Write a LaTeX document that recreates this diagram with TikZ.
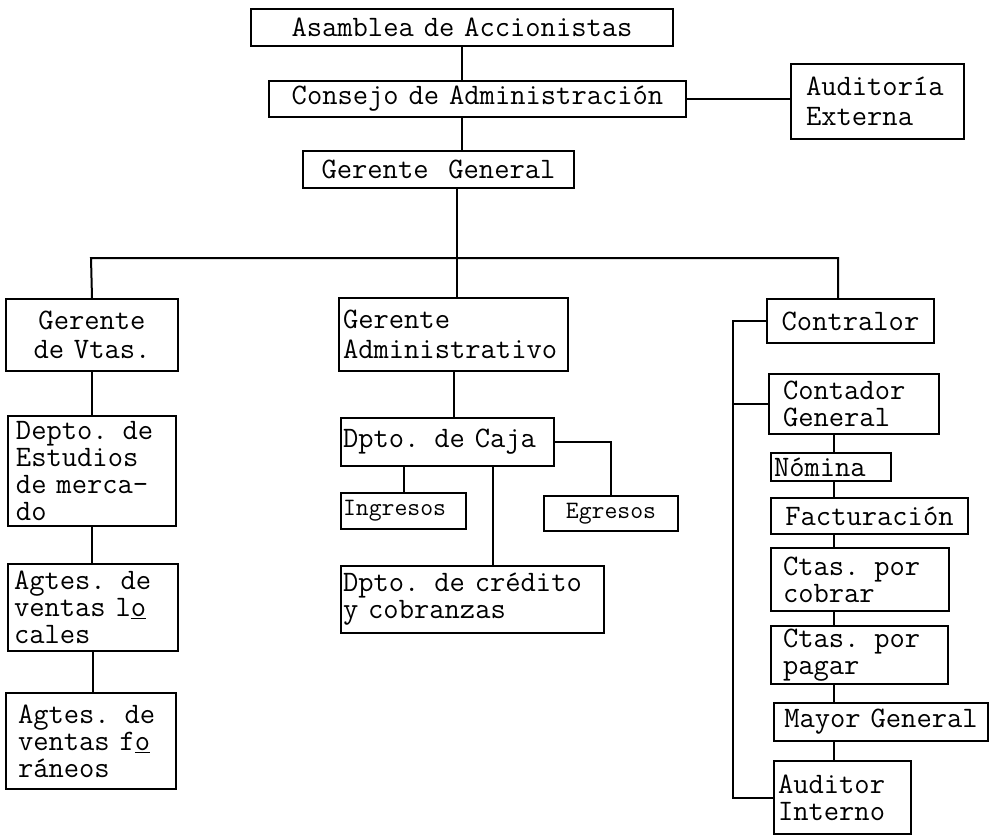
\documentclass[tikz,border=0pt]{standalone}
\usepackage{tikz}
\usetikzlibrary{positioning}
\tikzset{ubox/.style = {draw, line width=2pt, inner sep=0, anchor=north west, font=\ttfamily\fontsize{29.7}{27}\selectfont}}
\tikzset{wide/.style = {font=\ttfamily\fontsize{29.7}{29.5}\selectfont}}
\tikzset{narrow/.style = {font=\ttfamily\fontsize{25}{25}\selectfont}}
\tikzset{link/.style = {line width=2pt}}

\begin{document}
\begin{tikzpicture}[x=1pt, y=-1pt]
      \useasboundingbox (0,0) rectangle (996,837);

      % top
      \node [ubox, text width=422pt, minimum height=37pt, align=center] (asam) at (250,8) {Asamblea de Accionistas};
      \node [ubox, text width=417pt, minimum height=36pt, align=center] (consejo) at (268,80) {Consejo de Administración};
      \node [ubox, wide, inner xsep=15pt, text width=143pt, minimum height=75pt, align=left] (audext) at (790,63) {Auditoría\\Externa};
      \node [ubox, text width=271pt, minimum height=37pt, align=center] (gg) at (302,150) {Gerente~~General};

      % ventas
      \node [ubox, wide, text width=172pt, minimum height=72pt, align=center] (gv) at (5,298) {Gerente\\de Vtas.};
      \node [ubox, inner xsep=8pt, text width=152pt, minimum height=110pt, align=left] (dem) at (7,415) {Depto. de\\Estudios\\de merca-\\do};
      \node [ubox, inner xsep=6pt, text width=158pt, minimum height=87pt, align=left] (agl) at (7,563) {Agtes. de\\ventas l\underline{o}\\cales};
      \node [ubox, inner xsep=12pt, text width=146pt, minimum height=96pt, align=left] (agf) at (5,692) {Agtes. de\\ventas f\underline{o}\\ráneos};

      % administracion
      \node [ubox, wide, inner xsep=4pt, text width=221pt, minimum height=73pt, align=left] (gadm) at (338,297) {Gerente\\Administrativo};
      \node [ubox, inner xsep=2pt, text width=209pt, minimum height=48pt, align=left] (caja) at (340,417) {Dpto. de Caja};
      \node [ubox, narrow, inner xsep=2pt, text width=121pt, minimum height=36pt, align=left] (ing) at (340,492) {Ingresos};
      \node [ubox, narrow, text width=134pt, minimum height=35pt, align=center] (egr) at (543,495) {Egresos};
      \node [ubox, inner xsep=2pt, text width=259pt, minimum height=67pt, align=left] (cred) at (340,565) {Dpto. de crédito\\y cobranzas};

      % contraloria
      \node [ubox, text width=167pt, minimum height=44pt, align=center] (contralor) at (766,298) {Contralor};
      \node [ubox, inner xsep=14pt, text width=142pt, minimum height=60pt, align=left] (contador) at (768,373) {Contador\\General};
      \node [ubox, inner xsep=3pt, text width=114pt, minimum height=28pt, align=left] (nomina) at (770,452) {Nómina};
      \node [ubox, text width=197pt, minimum height=36pt, align=center] (fact) at (770,497) {Facturación};
      \node [ubox, inner xsep=12pt, text width=154pt, minimum height=63pt, align=left] (cobrar) at (770,547) {Ctas. por\\cobrar};
      \node [ubox, inner xsep=12pt, text width=153pt, minimum height=58pt, align=left] (pagar) at (770,625) {Ctas. por\\pagar};
      \node [ubox, text width=214pt, minimum height=38pt, align=center] (mayor) at (773,702) {Mayor General};
      \node [ubox, inner xsep=4pt, text width=129pt, minimum height=73pt, align=left] (audint) at (773,760) {Auditor\\Interno};

      \coordinate (busL) at (91,258);
      \coordinate (bus) at (457,258);
      \coordinate (busR) at (838,258);
      \coordinate (cline) at (834,0);

      \draw [link] (asam.south) -- (asam.south |- consejo.north);
      \draw [link] (consejo.south -| asam.south) -- (gg.north -| asam.south);
      \draw [link] (consejo.east) -- (audext.west |- consejo.east);
      \draw [link] (gg.south -| bus) -- (gadm.north -| bus);
      \draw [link] (gv.north) -- (busL) -- (busR) -- (contralor.north -| busR);

      \foreach \a/\b in {gv/dem, dem/agl, agl/agf}
        \draw [link] (\a.south) -- (\a.south |- \b.north);

      \draw [link] (gadm.south) -- (gadm.south |- caja.north);
      \draw [link] (ing.north) -- (ing.north |- caja.south);
      \draw [link] (caja.east) -| (egr.north);
      \draw [link] ([xshift=20pt]cred.north) -- ([xshift=20pt]cred.north |- caja.south);

      \foreach \a/\b in {contador/nomina, nomina/fact, fact/cobrar, cobrar/pagar, pagar/mayor, mayor/audint}
        \draw [link] (\a.south -| cline) -- (\b.north -| cline);

      \draw [link] (contralor.west) -- ++(-33,0) coordinate (cbar) |- (audint.west);
      \draw [link] (contador.west) -- (contador.west -| cbar);
    \end{tikzpicture}
\end{document}
